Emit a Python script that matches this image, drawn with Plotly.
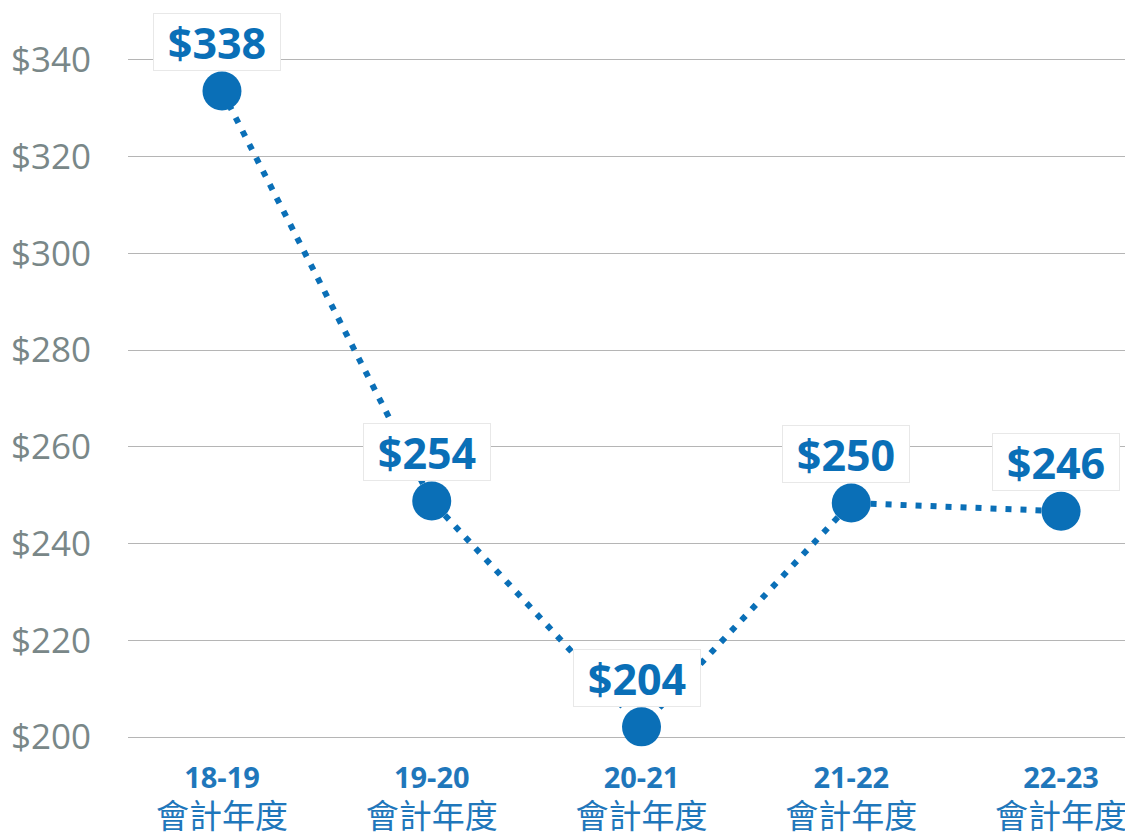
import plotly.graph_objects as go

categories = ["18-19", "19-20", "20-21", "21-22", "22-23"]
category_suffix = "會計年度"
point_values = [333.6, 248.8, 202.1, 248.4, 246.7]
value_labels = ["$338", "$254", "$204", "$250", "$246"]
y_ticks = [200, 220, 240, 260, 280, 300, 320, 340]

BLUE = "#0a6fb7"
GRAY = "#798788"

tick_text = [
    f"<span style='font-size:29px'><b>{c}</b></span><br><span style='font-size:33px'>{category_suffix}</span>"
    for c in categories
]

fig = go.Figure()
fig.add_trace(go.Scatter(
    x=list(range(len(categories))),
    y=point_values,
    mode="lines+markers",
    line=dict(color=BLUE, width=6, dash="6px,9px"),
    marker=dict(color=BLUE, size=39),
    hoverinfo="skip",
    showlegend=False,
))

for i, (v, lab) in enumerate(zip(point_values, value_labels)):
    fig.add_annotation(
        x=i, y=v, text=f"<b>{lab}</b>", showarrow=False,
        yshift=49, xshift=-5,
        font=dict(family="Open Sans, sans-serif", size=43, color=BLUE),
        bgcolor="white", bordercolor="#e8e8e8", borderwidth=1,
        width=124, height=54,
    )

fig.update_layout(
    width=1125, height=830,
    margin=dict(l=120, r=0, t=0, b=90),
    paper_bgcolor="white", plot_bgcolor="white",
    font=dict(family="Open Sans, Noto Sans CJK TC, sans-serif"),
    xaxis=dict(
        range=[-0.448, 4.343],
        tickvals=list(range(len(categories))),
        ticktext=tick_text,
        showgrid=False, zeroline=False, showline=False,
        tickfont=dict(family="Open Sans, Noto Sans CJK TC, sans-serif", size=31, color="#1f77bb"),
        ticks="", ticklabelstandoff=8, automargin=False,
    ),
    yaxis=dict(
        range=[197.73, 350.75],
        tickvals=y_ticks,
        ticktext=[f"${t}" for t in y_ticks],
        showgrid=True, gridcolor="#b5b5b5", gridwidth=1,
        zeroline=False, showline=False,
        tickfont=dict(family="Open Sans, sans-serif", size=35, color=GRAY),
        ticks="", ticklabelstandoff=36, automargin=False,
    ),
)

fig.write_html("out.html")
